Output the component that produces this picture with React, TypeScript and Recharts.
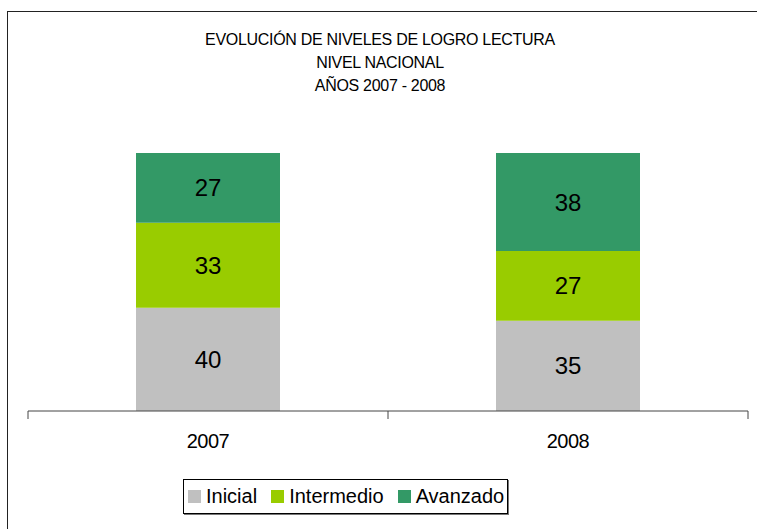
import React from 'react';
import { BarChart, Bar, XAxis, YAxis, LabelList } from 'recharts';

const years = ['2007', '2008'];
const inicial = [40, 35];
const intermedio = [33, 27];
const avanzado = [27, 38];
const titleLines = ['EVOLUCIÓN DE NIVELES DE LOGRO LECTURA', 'NIVEL NACIONAL', 'AÑOS 2007 - 2008'];

const SERIES = [
  { key: 'inicial', name: 'Inicial', color: '#C0C0C0' },
  { key: 'intermedio', name: 'Intermedio', color: '#99CC00' },
  { key: 'avanzado', name: 'Avanzado', color: '#339966' },
];

const data = years.map((year, i) => ({
  year,
  inicial: inicial[i],
  intermedio: intermedio[i],
  avanzado: avanzado[i],
}));

const FONT = '"Liberation Sans", Arial, sans-serif';
const W = 757;
const H = 529;
const LEFT = 28;
const RIGHT = 9;
const BAND = (W - LEFT - RIGHT) / years.length;

const YearTick = (props: any) => {
  const { x, y, payload, index } = props;
  const start = x - BAND / 2;
  return (
    <g>
      <line x1={start} y1={y - 8} x2={start} y2={y} stroke="#444" />
      {index === years.length - 1 && (
        <line x1={start + BAND} y1={y - 8} x2={start + BAND} y2={y} stroke="#444" />
      )}
      <text x={x} y={y + 29} textAnchor="middle" fontSize={20} fill="#000" fontFamily={FONT} letterSpacing={-0.5}>
        {payload.value}
      </text>
    </g>
  );
};

const LegendBox = () => (
  <div
    style={{
      position: 'absolute',
      left: 183,
      top: 479,
      width: 325,
      height: 35,
      border: '1px solid #000',
      boxShadow: '1px 1px 0 #777',
      display: 'flex',
      alignItems: 'center',
      fontFamily: FONT,
      fontSize: 20,
      letterSpacing: 0,
      boxSizing: 'border-box',
      paddingLeft: 4,
    }}
  >
    {SERIES.map((s) => (
      <span key={s.key} style={{ display: 'flex', alignItems: 'center', marginRight: 14 }}>
        <span style={{ width: 13, height: 13, background: s.color, display: 'inline-block', marginRight: 5 }} />
        {s.name}
      </span>
    ))}
  </div>
);

export default function App() {
  return (
    <div style={{ position: 'absolute', left: 0, top: 0, width: W, height: H, overflow: 'hidden', background: '#fff' }}>
      <div
        style={{
          position: 'absolute',
          left: 7,
          top: 11,
          width: W + 20,
          height: H + 20,
          border: '1.5px solid #222',
        }}
      />
      <div style={{ position: 'absolute', left: 0, top: 28, width: 760, textAlign: 'center', fontFamily: FONT, fontSize: 16, lineHeight: '23px', letterSpacing: -0.3 }}>
        {titleLines.map((t) => (
          <div key={t}>{t}</div>
        ))}
      </div>
      <BarChart
        width={W}
        height={H}
        data={data}
        margin={{ top: 153, right: RIGHT, bottom: 0, left: LEFT }}
        barCategoryGap="30%"
        style={{ position: 'absolute', left: 0, top: 0 }}
      >
        <YAxis hide domain={[0, 100]} />
        <XAxis
          dataKey="year"
          height={118}
          axisLine={{ stroke: '#444' }}
          tickLine={false}
          tick={<YearTick />}
          interval={0}
        />
        {SERIES.map((s) => (
          <Bar key={s.key} dataKey={s.key} name={s.name} stackId="a" fill={s.color} isAnimationActive={false}>
            <LabelList dataKey={s.key} position="center" fill="#000" fontSize={24} fontFamily={FONT} />
          </Bar>
        ))}
      </BarChart>
      <LegendBox />
    </div>
  );
}
